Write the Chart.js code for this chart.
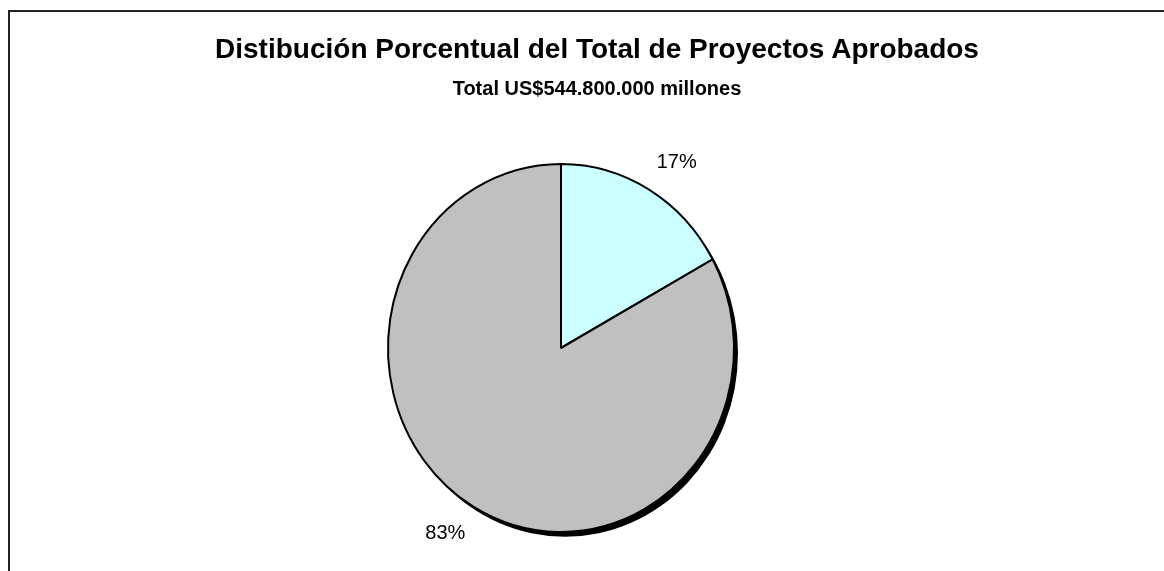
<!DOCTYPE html>
<html>
<head>
<meta charset="utf-8">
<script src="https://cdn.jsdelivr.net/npm/chart.js@4"></script>
<style>
  html, body { margin: 0; padding: 0; background: #fff; }
  #wrap { position: relative; width: 1164px; height: 571px; overflow: hidden; }
  #frame { position: absolute; left: 8px; top: 10px; right: -2px; bottom: -2px; border: 2px solid #222; border-right: none; border-bottom: none; }
  .ttl { position: absolute; left: 30px; right: 0; text-align: center; font-family: "Liberation Sans", Arial, sans-serif; font-weight: bold; color: #000; white-space: nowrap; }
  #title { top: 35px; font-size: 28px; line-height: 28px; }
  #subtitle { top: 78px; font-size: 20px; line-height: 20px; }
  canvas { position: absolute; left: 0; top: 0; }
</style>
</head>
<body>
<div id="wrap">
  <div id="frame"></div>
  <canvas id="myChart" width="1164" height="571"></canvas>
  <div class="ttl" id="title"></div>
  <div class="ttl" id="subtitle"></div>
</div>
<script>
const ctx = document.getElementById('myChart');

// datos
const labels = ['Grupo A', 'Grupo B'];
const values = [17, 83];
const colors = ['#CCFFFF', '#C0C0C0'];

const titleText = 'Distibución Porcentual del Total de Proyectos Aprobados';
const subtitleText = 'Total US$544.800.000 millones';

document.getElementById('title').textContent = titleText;
document.getElementById('subtitle').textContent = subtitleText;

const yStretch = 184 / 173; // el pie original es un poco ovalado

// sombra + ovalado + etiquetas de porcentaje
const piePlugin = {
  id: 'piePlugin',
  beforeDatasetsDraw(chart) {
    const c = chart.ctx;
    const arc = chart.getDatasetMeta(0).data[0];
    c.save();
    c.translate(arc.x, arc.y);
    c.scale(1, yStretch);
    c.translate(-arc.x, -arc.y);
    // sombra negra
    c.beginPath();
    c.arc(arc.x + 4, arc.y + 4.5, arc.outerRadius, 0, Math.PI * 2);
    c.fillStyle = '#000';
    c.fill();
  },
  afterDatasetsDraw(chart) {
    const c = chart.ctx;
    c.restore();
    const meta = chart.getDatasetMeta(0);
    const total = values.reduce((a, b) => a + b, 0);
    c.save();
    c.font = '20px "Liberation Sans", Arial, sans-serif';
    c.fillStyle = '#000';
    c.textAlign = 'center';
    c.textBaseline = 'middle';
    meta.data.forEach((arc, i) => {
      // excel pone la etiqueta un poco girada respecto al centro del sector
      const mid = (arc.startAngle + arc.endAngle) / 2 + 3 * Math.PI / 180;
      const r = arc.outerRadius + 36;
      const lx = arc.x + Math.cos(mid) * r;
      const ly = arc.y + Math.sin(mid) * r * yStretch;
      c.fillText(Math.round(values[i] / total * 100) + '%', lx, ly);
    });
    c.restore();
  }
};

let cc = new Chart(ctx, {
  type: 'pie',
  data: {
    labels: labels,
    datasets: [
      {
        data: values,
        backgroundColor: colors,
        borderColor: '#000',
        borderWidth: 2,
        hoverOffset: 0,
        clip: false
      }
    ]
  },
  options: {
    responsive: false,
    animation: false,
    radius: 173,
    layout: { padding: { top: 175, bottom: 50, left: 0, right: 42 } },
    plugins: {
      legend: { display: false },
      tooltip: { enabled: false },
      title: { display: false }
    }
  },
  plugins: [piePlugin]
});
</script>
</body>
</html>
